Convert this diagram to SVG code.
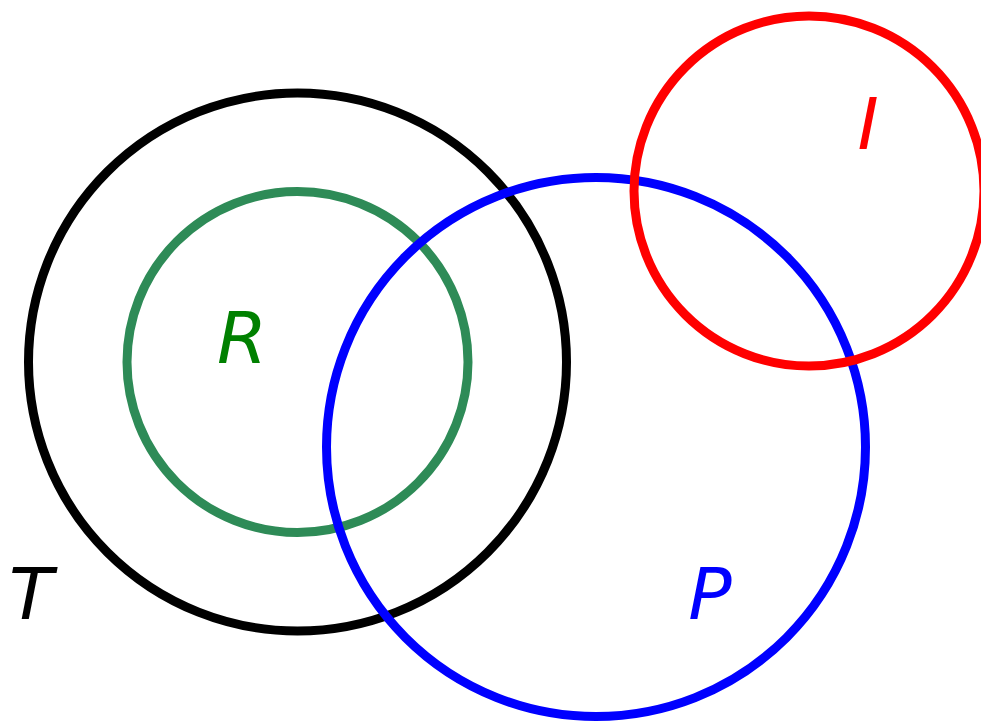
<svg xmlns="http://www.w3.org/2000/svg" width="981" height="721" viewBox="0 0 981 721">
<style>
.c{fill:none;stroke-width:9}
.l{font-family:"DejaVu Sans",sans-serif;font-style:oblique;font-size:72px;text-anchor:middle}
</style>
<rect width="981" height="721" fill="#fff"/>
<g id="T"><circle class="c" cx="297.5" cy="362" r="269" stroke="#000"/><text class="l" x="31" y="619" fill="#000">T</text></g>
<g id="R"><circle class="c" cx="297.5" cy="362" r="170.5" stroke="#2e8b57"/><text class="l" x="242" y="363" fill="#008000">R</text></g>
<g id="P"><circle class="c" cx="596" cy="447" r="269.5" stroke="#0000ff"/><text class="l" x="710" y="619" fill="#0000ff">P</text></g>
<g id="I"><circle class="c" cx="809" cy="191" r="175" stroke="#ff0000"/><text class="l" x="868" y="149" fill="#ff0000">I</text></g>
<g id="connectors"/>
</svg>
